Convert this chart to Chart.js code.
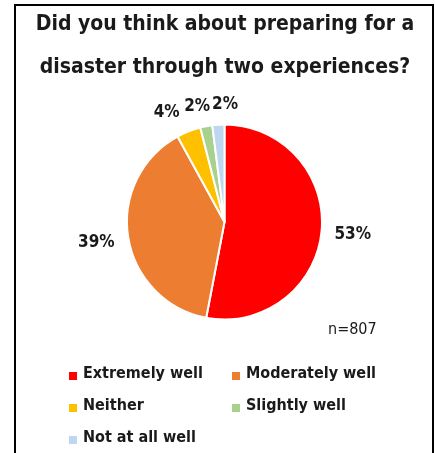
<!DOCTYPE html>
<html>
<head>
<meta charset="utf-8">
<script src="https://cdn.jsdelivr.net/npm/chart.js@4/dist/chart.umd.min.js"></script>
<style>
  body { margin: 0; background: #fff; }
  #wrap { position: relative; width: 435px; height: 453px; }
  #frame { position: absolute; left: 14px; top: 4px; width: 416px; height: 460px; border: 2px solid #000; border-bottom: none; }
  canvas { position: absolute; left: 0; top: 0; }
</style>
</head>
<body>
<div id="wrap">
  <div id="frame"></div>
  <canvas id="chart" width="435" height="453"></canvas>
</div>
<script>
// data
const categories = ['Extremely well', 'Moderately well', 'Neither', 'Slightly well', 'Not at all well'];
const shares = [53, 39, 4, 2, 2];
const colors = ['#FF0000', '#ED7D31', '#FFC000', '#A9D18E', '#BDD7EE'];
const titleLines = ['Did you think about preparing for a', 'disaster through two experiences?'];
const sampleNote = 'n=807';

// little sideways nudges so the thin slices' labels do not collide
const labelNudge = [2, -3, -14, -5, 8];

const textColor = '#1a1a1a';
const face = '"DejaVu Sans Condensed", "DejaVu Sans", sans-serif';
const boldFont = 'bold 16px ' + face;

const extras = {
  id: 'extras',
  afterDraw(chart) {
    const ctx = chart.ctx;
    ctx.save();
    ctx.fillStyle = textColor;
    ctx.textBaseline = 'middle';

    // title
    ctx.font = 'bold 21px ' + face;
    ctx.textAlign = 'center';
    titleLines.forEach((t, i) => ctx.fillText(t, 225, 25 + i * 43));

    // percentage labels
    const meta = chart.getDatasetMeta(0);
    ctx.font = 'bold 17px ' + face;
    meta.data.forEach((arc, i) => {
      const mid = (arc.startAngle + arc.endAngle) / 2;
      const f = shares[i] < 10 ? 1.22 : 1.3;
      const x = arc.x + Math.cos(mid) * arc.outerRadius * f + labelNudge[i];
      const y = arc.y + Math.sin(mid) * arc.outerRadius * f;
      ctx.fillText(shares[i] + '%', x, y + 1);
    });

    // n note
    ctx.font = '16px ' + face;
    ctx.textAlign = 'left';
    ctx.fillText(sampleNote, 328, 330);

    // legend, two columns
    ctx.font = boldFont;
    categories.forEach((c, i) => {
      const col = i % 2, row = Math.floor(i / 2);
      const bx = col ? 232 : 69;
      const by = 374 + row * 32;
      ctx.fillStyle = colors[i];
      ctx.fillRect(bx, by - 2, 8, 8);
      ctx.fillStyle = textColor;
      ctx.fillText(c, bx + 14, by);
    });
    ctx.restore();
  }
};

new Chart(document.getElementById('chart'), {
  type: 'pie',
  data: {
    labels: categories,
    datasets: [{
      data: shares,
      backgroundColor: colors,
      borderColor: '#fff',
      borderWidth: 2
    }]
  },
  options: {
    responsive: false,
    animation: false,
    layout: { padding: { left: 126, right: 112, top: 123, bottom: 132 } },
    plugins: {
      legend: { display: false },
      tooltip: { enabled: false }
    }
  },
  plugins: [extras]
});
</script>
</body>
</html>
